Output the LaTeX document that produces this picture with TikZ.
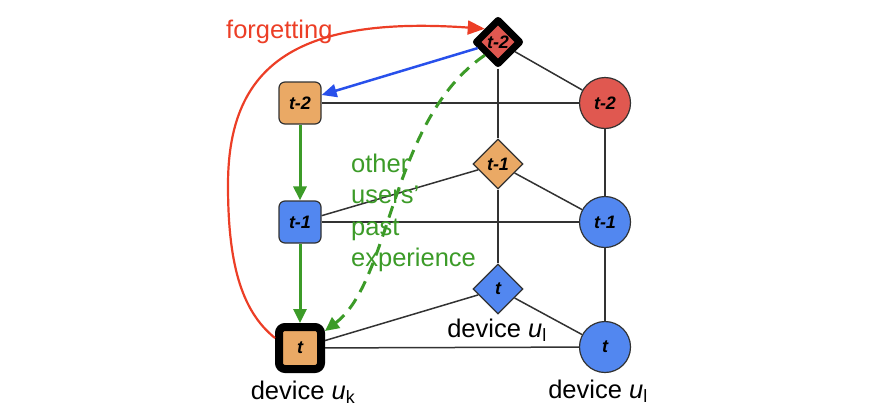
\documentclass[tikz,border=0pt]{standalone}
\usepackage{fontspec}
\setmainfont{Liberation Sans}
\usetikzlibrary{shapes.geometric,arrows.meta}
\definecolor{orfill}{RGB}{234,169,101}
\definecolor{blfill}{RGB}{82,135,240}
\definecolor{rdfill}{RGB}{224,88,80}
\definecolor{rdarr}{RGB}{236,62,38}
\definecolor{grarr}{RGB}{60,155,40}
\definecolor{blarr}{RGB}{40,80,235}
\definecolor{lnc}{RGB}{50,50,50}
\tikzset{
  lbl/.style={font=\fontsize{18}{18}\selectfont\bfseries\itshape, text=black},
  sqbox/.style={lbl, draw=lnc, line width=1.2pt, rounded corners=6pt, minimum size=42pt, inner sep=0pt},
  dia/.style={lbl, diamond, draw=lnc, line width=1.2pt, minimum width=50pt, minimum height=50pt, inner sep=0pt},
  circ/.style={lbl, circle, draw=lnc, line width=1.2pt, minimum size=51pt, inner sep=0pt},
  link/.style={draw=lnc, line width=1.5pt},
  bigtxt/.style={font=\fontsize{25.5}{31.5}\selectfont, inner sep=0pt},
  grarrow/.style={draw=grarr, line width=3pt, -{Triangle[length=14pt,width=13pt]}},
}
\begin{document}
\begin{tikzpicture}[x=1pt,y=-1pt]
\useasboundingbox (0,0) rectangle (880,418);
% left column squares
\node[sqbox, fill=orfill] (sq2) at (300,103) {t-2};
\node[sqbox, fill=blfill] (sq1) at (300,222) {t-1};
\node[sqbox, fill=orfill, draw=black, line width=8pt, minimum size=42pt] (sqt) at (300,348) {t};
% middle diamonds
\node[dia, fill=rdfill, draw=black, line width=7pt, line join=round, minimum width=46pt, minimum height=46pt] (dtop) at (498,42) {t-2};
\node[dia, fill=orfill] (dmid) at (498,164) {t-1};
\node[dia, fill=blfill] (dbot) at (498,289) {t};
% right circles
\node[circ, fill=rdfill] (c2) at (605,103) {t-2};
\node[circ, fill=blfill] (c1) at (605,222) {t-1};
\node[circ, fill=blfill] (ct) at (605,347) {t};
% black links
\draw[link] (sq2) -- (c2);
\draw[link] (sq1) -- (c1);
\draw[link] (sqt) -- (ct);
\draw[link] (dtop) -- (c2);
\draw[link] (dtop) -- (dmid);
\draw[link] (dmid) -- (dbot);
\draw[link] (c2) -- (c1);
\draw[link] (c1) -- (ct);
\draw[link] (sq1) -- (dmid);
\draw[link] (dmid) -- (c1);
\draw[link] (sqt) -- (dbot);
\draw[link] (dbot) -- (ct);
% green solid arrows
\draw[grarrow] (sq2) -- (sq1);
\draw[grarrow] (sq1) -- (sqt);
% green dashed arrow
\draw[grarrow, dash pattern=on 12pt off 8pt] (dtop.south west) .. controls (390,120) and (392,280) .. ([yshift=-8pt]sqt.north east);
% blue arrow
\draw[draw=blarr, line width=2.5pt, -{Triangle[length=15pt,width=13pt]}] (dtop) -- ([yshift=8pt]sq2.east);
% red forgetting arrow
\coordinate (rl) at (228,185);
\draw[draw=rdarr, line width=2.2pt, -{Triangle[length=17pt,width=14pt]}] ([yshift=10pt]sqt.west) .. controls (240,310) and (228,260) .. (rl) .. controls (228,70) and (290,15) .. (dtop.north west);
% texts
\node[bigtxt, text=rdarr, anchor=west] (tforget) at (226,32) {forgetting};
\node[bigtxt, text=grarr, anchor=west, align=left] (tother) at (351,213) {other\\users'\\past\\experience};
\node[bigtxt] (lk) at (303,392) {device \textit{u}\textsubscript{k}};
\node[bigtxt] (ll1) at (497,330) {device \textit{u}\textsubscript{l}};
\node[bigtxt] (ll2) at (598,391) {device \textit{u}\textsubscript{l}};
\end{tikzpicture}
\end{document}
